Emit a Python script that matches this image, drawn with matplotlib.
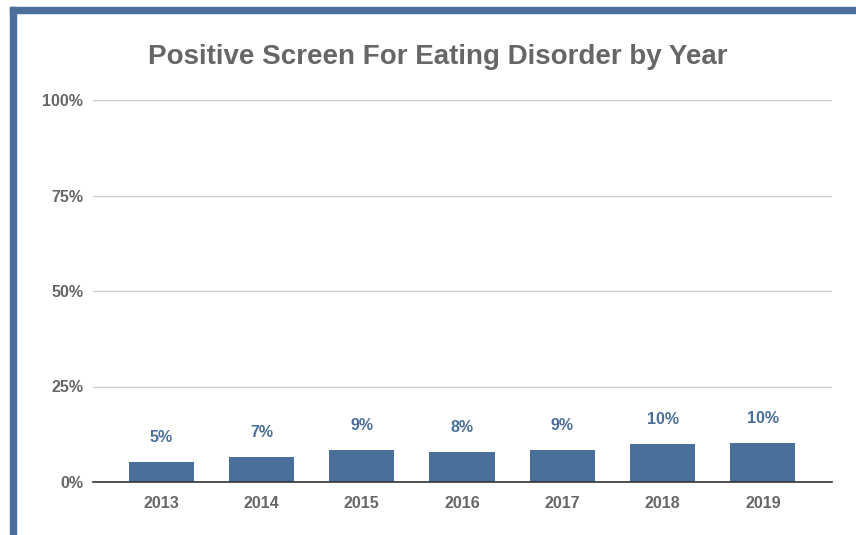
import matplotlib
matplotlib.use("Agg")
import matplotlib.pyplot as plt
from matplotlib.patches import Rectangle

years = ["2013", "2014", "2015", "2016", "2017", "2018", "2019"]
values = [5.2, 6.6, 8.5, 7.9, 8.5, 10.0, 10.3]
labels = ["5%", "7%", "9%", "8%", "9%", "10%", "10%"]
yticks = [0, 25, 50, 75, 100]
ytick_labels = ["0%", "25%", "50%", "75%", "100%"]

plt.rcParams['font.family'] = ['Liberation Sans', 'DejaVu Sans']

W, H = 856, 535
fig = plt.figure(figsize=(W/100, H/100), dpi=100)
border = "#4a6f9a"
fig.patches.append(Rectangle((10/W, 1-13/H), 1, 6/H, transform=fig.transFigure, color=border, zorder=0))
fig.patches.append(Rectangle((10/W, 0), 6/W, 1-7/H, transform=fig.transFigure, color=border, zorder=0))

ax = fig.add_axes([93/W, 1-482/H, (832-93)/W, (482-100)/H])
x = range(len(years))
ax.bar(x, values, width=0.65, color="#4a6f9a", zorder=3)
for xi, v, lab in zip(x, values, labels):
    ax.annotate(lab, (xi, v), xytext=(0, 12), textcoords="offset points",
                ha="center", va="bottom", color="#4a6f9a", fontsize=11.5, fontweight="bold")
ax.set_xlim(-0.68, 6.69)
ax.set_ylim(0, 100)
ax.set_yticks(yticks)
ax.set_yticklabels(ytick_labels)
ax.set_xticks(list(x))
ax.set_xticklabels(years)
ax.grid(axis="y", color="#cccccc", linewidth=1, zorder=0)
for s in ["top", "right", "left"]:
    ax.spines[s].set_visible(False)
ax.spines["bottom"].set_color("#333333")
ax.spines["bottom"].set_linewidth(1.2)
ax.spines["bottom"].set_zorder(4)
ax.tick_params(axis="both", length=0, labelcolor="#666666", labelsize=11.5)
ax.tick_params(axis="y", pad=7)
ax.tick_params(axis="x", pad=10)
for t in ax.get_xticklabels() + ax.get_yticklabels():
    t.set_fontweight("bold")
fig.text(438/W, 1-57/H, "Positive Screen For Eating Disorder by Year", ha="center", va="center",
         fontsize=20, fontweight="bold", color="#666666")
fig.savefig("out.png", dpi=100)
